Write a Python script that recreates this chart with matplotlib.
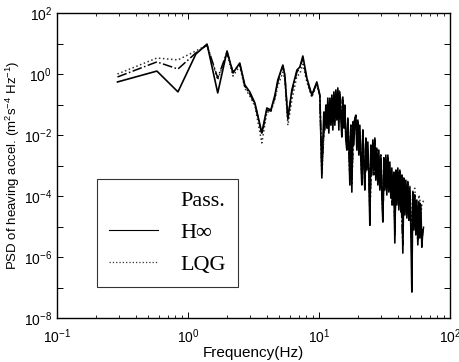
import matplotlib
matplotlib.use("Agg")
import matplotlib.pyplot as plt
from matplotlib.lines import Line2D
from matplotlib.ticker import LogLocator, NullFormatter

plt.rcParams["font.family"] = ["Liberation Sans", "DejaVu Sans"]
plt.rcParams["mathtext.fontset"] = "custom"
plt.rcParams["mathtext.rm"] = "Liberation Sans"
plt.rcParams["mathtext.it"] = "Liberation Sans:italic"

# frequency points (Hz)
freq_low = [0.29, 0.58, 0.84, 1.15, 1.40, 1.69, 1.99, 2.21, 2.49, 2.72, 2.97, 3.25,
            3.67, 4.01, 4.30, 4.62, 4.86, 5.31, 5.50, 5.80, 6.22, 6.80, 7.16, 7.55,
            8.10, 8.84, 9.65, 10.18, 10.54]

# H-infinity trace is densest above 10 Hz, so it has its own finer points there
freq_hinf_high = [10.73, 10.92, 11.11, 11.31, 11.51, 11.71, 11.92, 12.13, 12.35, 12.57,
                  12.79, 13.02, 13.25, 13.48, 13.72, 13.96, 14.21, 14.46, 14.72, 14.98,
                  15.25, 15.52, 15.79, 16.07, 16.36, 16.65, 16.94, 17.25, 17.55, 17.86,
                  18.18, 18.50, 18.83, 19.16, 19.50, 19.85, 20.20, 20.56, 20.92, 21.29,
                  21.67, 22.05, 22.45, 22.84, 23.25, 23.66, 24.08, 24.51, 24.94, 25.39,
                  25.84, 26.29, 26.76, 27.23, 27.72, 28.21, 28.71, 29.22, 29.74, 30.26,
                  30.80, 31.35, 31.90, 32.47, 33.04, 33.63, 34.22, 34.83, 35.45, 36.08,
                  36.72, 37.37, 38.03, 38.71, 39.39, 40.09, 40.80, 41.53, 42.27, 43.02,
                  43.78, 44.56, 45.35, 46.15, 46.97, 47.80, 48.64, 49.51, 50.39, 51.28,
                  52.19, 53.12, 54.06, 55.02, 55.99, 56.98, 57.99, 59.02, 60.06, 61.13,
                  62.21]

freq_ctrl_high = [11.11, 11.51, 11.71, 12.13, 12.57, 13.02, 13.25, 13.72, 13.96, 14.21,
                  14.72, 14.98, 15.25, 15.79, 16.36, 16.65, 17.25, 17.55, 17.86, 18.50,
                  19.16, 19.50, 19.85, 20.56, 21.29, 21.67, 22.45, 23.25, 24.08, 24.51,
                  25.39, 26.29, 26.76, 27.72, 28.21, 29.22, 29.74, 30.80, 31.90, 32.47,
                  33.63, 34.83, 35.45, 36.08, 37.37, 38.03, 38.71, 40.09, 40.80, 41.53,
                  42.27, 43.78, 44.56, 46.15, 47.80, 48.64, 49.51, 51.28, 52.19, 54.06,
                  55.02, 56.98, 57.99, 59.02, 60.06, 61.13, 63.32]

psd_hinf_low = [0.55, 1.25, 0.26, 4.5, 9.6, 0.24, 5.7, 1.08, 2.3, 0.44, 0.26, 0.112,
                0.0116, 0.077, 0.066, 0.205, 0.64, 1.97, 0.93, 0.033, 0.30, 1.35, 1.70, 3.9,
                0.74, 0.205, 0.55, 0.205, 0.00039]

psd_hinf_high = [0.0069, 0.057, 0.0146, 0.096, 0.017, 0.163, 0.0116, 0.14, 0.021, 0.205,
                 0.0146, 0.26, 0.021, 0.30, 0.031, 0.35, 0.0146, 0.26, 0.036, 0.0086,
                 0.176, 0.017, 0.096, 0.0069, 0.0032, 0.036, 0.0047, 0.00023, 0.021, 0.000135,
                 0.027, 0.0047, 0.036, 0.045, 0.0032, 0.031, 0.0022, 0.021, 0.0015, 0.00023,
                 0.0146, 0.00104, 0.000157, 0.0080, 0.00071, 0.0059, 0.00049, 1.1e-5, 0.0047, 0.00049,
                 0.0069, 0.00071, 0.0080, 0.00033, 0.0037, 0.00023, 0.0032, 0.000157, 0.0022, 0.000108,
                 1.4e-5, 0.0018, 0.000157, 0.0022, 0.000108, 0.0022, 0.000135, 0.0013, 8.6e-5, 0.00083,
                 5.1e-5, 0.00061, 2.9e-6, 0.00071, 5.1e-5, 0.00083, 3.5e-5, 0.00071, 3.0e-5, 0.00049,
                 1.35e-6, 0.00039, 2.4e-5, 0.00033, 1.9e-5, 0.00029, 1.6e-5, 0.00018, 8.9e-6, 7.1e-8,
                 0.000135, 7.7e-6, 0.000108, 5.3e-6, 7.4e-5, 2.5e-6, 6.4e-5, 4.2e-6, 5.1e-5, 2.1e-6,
                 7.7e-6]

psd_pass_low = [0.80, 2.5, 1.46, 4.9, 8.9, 0.74, 5.3, 1.16, 2.1, 0.40, 0.22, 0.104,
                0.0108, 0.066, 0.061, 0.176, 0.55, 1.83, 0.86, 0.036, 0.26, 1.16, 1.57, 3.35,
                0.64, 0.19, 0.51, 0.19, 0.00071]

psd_pass_high = [0.045, 0.096, 0.021, 0.163, 0.057, 0.14, 0.036, 0.205, 0.096, 0.30,
                 0.14, 0.0146, 0.14, 0.021, 0.0069, 0.036, 0.00049, 0.021, 0.00033, 0.027,
                 0.039, 0.0080, 0.027, 0.0100, 0.00049, 0.0146, 0.00029, 0.0047, 0.00071, 3.5e-5,
                 0.0037, 0.00049, 0.0069, 0.00104, 0.0032, 0.00023, 0.0022, 2.4e-5, 0.0015, 0.00023,
                 0.0018, 0.00039, 0.00071, 5.1e-5, 0.00049, 5.3e-6, 0.00029, 0.00061, 5.1e-5, 0.00071,
                 0.000108, 2.5e-6, 0.00023, 5.1e-5, 0.00029, 1.6e-5, 0.000135, 1.16e-6, 8.5e-5, 0.000108,
                 1.6e-5, 3.6e-6, 4.0e-5, 5.9e-5, 7.7e-6, 3.6e-6, 1.1e-5]

psd_lqg_low = [1.0, 3.35, 2.9, 5.7, 8.9, 0.64, 4.5, 0.86, 1.83, 0.35, 0.19, 0.089,
               0.0055, 0.057, 0.057, 0.151, 0.40, 1.16, 0.64, 0.021, 0.14, 0.86, 1.0, 2.1,
               0.55, 0.176, 0.47, 0.176, 0.00049]

psd_lqg_high = [0.036, 0.077, 0.0146, 0.096, 0.036, 0.121, 0.027, 0.163, 0.057, 0.205,
                0.077, 0.0100, 0.104, 0.027, 0.0047, 0.021, 0.00039, 0.0125, 0.00023, 0.0146,
                0.031, 0.0069, 0.021, 0.0125, 0.00039, 0.0080, 0.00023, 0.0032, 0.00104, 2.4e-5,
                0.0022, 0.00071, 0.0047, 0.00061, 0.0022, 0.00018, 0.0015, 3.0e-5, 0.00083, 0.00029,
                0.0015, 0.00033, 0.00071, 8.5e-5, 0.00049, 7.7e-6, 0.00033, 0.00061, 8.5e-5, 0.00061,
                0.000157, 5.3e-6, 0.00023, 7.4e-5, 0.00033, 5.1e-5, 0.00023, 3.6e-6, 0.000157, 0.00018,
                3.5e-5, 2.4e-5, 0.000108, 8.5e-5, 2.4e-5, 5.1e-5, 7.4e-5]

legend_labels = ["Pass.", "H\u221e", "LQG"]
ytick_vals = [1e-8, 1e-7, 1e-6, 1e-5, 1e-4, 1e-3, 1e-2, 1e-1, 1e0, 1e1, 1e2]
ytick_labels = ["$10^{-8}$", "", "$10^{-6}$", "", "$10^{-4}$", "", "$10^{-2}$", "",
                "$10^{0}$", "", "$10^{2}$"]
xtick_vals = [0.1, 1, 10, 100]
xtick_labels = ["$10^{-1}$", "$10^{0}$", "$10^{1}$", "$10^{2}$"]

fig = plt.figure(figsize=(4.59, 3.62), dpi=100)
ax = fig.add_axes([0.124, 0.1215, 0.856, 0.8425])

ax.plot(freq_low + freq_ctrl_high, psd_lqg_low + psd_lqg_high,
        color="#333333", linestyle=":", linewidth=1.1)
ax.plot(freq_low + freq_ctrl_high, psd_pass_low + psd_pass_high,
        color="black", linestyle="-.", linewidth=1.1)
ax.plot(freq_low + freq_hinf_high, psd_hinf_low + psd_hinf_high,
        color="black", linestyle="-", linewidth=1.2)

ax.set_xscale("log")
ax.set_yscale("log")
ax.set_xlim(0.1, 100)
ax.set_ylim(1e-8, 1e2)

ax.set_xticks(xtick_vals)
ax.set_xticklabels(xtick_labels)
ax.xaxis.set_minor_locator(LogLocator(base=10, subs=range(2, 10), numticks=20))
ax.xaxis.set_minor_formatter(NullFormatter())
ax.set_yticks(ytick_vals)
ax.set_yticklabels(ytick_labels)
ax.yaxis.set_minor_locator(LogLocator(base=10, subs=[], numticks=20))

ax.tick_params(which="both", direction="in", top=True, right=True, labelsize=10)
ax.tick_params(which="major", length=4, width=0.7)
ax.tick_params(which="minor", length=2, width=0.6)
ax.tick_params(axis="x", which="major", pad=7)
for s in ax.spines.values():
    s.set_linewidth(1.0)

ax.set_xlabel("Frequency(Hz)", fontsize=11, labelpad=0)
ax.set_ylabel("PSD of heaving accel. (m$^{2}$s$^{-4}$ Hz$^{-1}$)", fontsize=9.5, labelpad=1)

handles = [Line2D([], [], color="none"),
           Line2D([], [], color="black", linestyle="-", linewidth=0.8),
           Line2D([], [], color="#333333", linestyle=":", linewidth=0.9)]
leg = ax.legend(handles, legend_labels, loc="lower left",
                bbox_to_anchor=(0.102, 0.102), borderaxespad=0,
                prop={"family": ["Liberation Serif", "DejaVu Serif"], "size": 16},
                frameon=True, fancybox=False, edgecolor="black",
                handlelength=2.2, handletextpad=1.0, labelspacing=0.5,
                borderpad=0.55)
leg.get_frame().set_linewidth(0.8)

fig.savefig("out.png", dpi=100)
